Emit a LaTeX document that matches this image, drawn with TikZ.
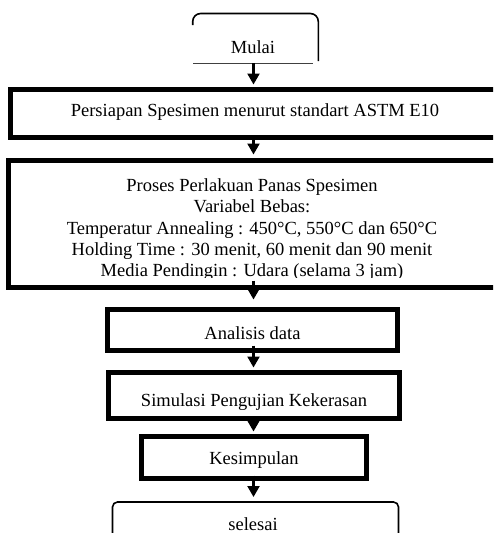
\documentclass[tikz,border=0pt]{standalone}
\usepackage{fontspec}
\setmainfont{Liberation Serif}
\usetikzlibrary{arrows.meta,calc}
\begin{document}
\begin{tikzpicture}[x=1pt,y=-1pt,
  every node/.style={font=\fontsize{18.5}{21.3}\selectfont, inner sep=0pt},
  thickbox/.style={draw, line width=5pt, rectangle, text depth=4pt},
  thinline/.style={line width=1.6pt},
  arr/.style={line width=2.2pt, -{Triangle[width=12pt,length=11pt]}},
]
\path[use as bounding box, clip] (0,0) rectangle (493,533);
\fill[white] (0,0) rectangle (493,533);
\coordinate (ax) at (253.5,0);

% Mulai (clipped rounded box)
\draw[thinline, rounded corners=8pt] (192.7,25) -- (192.7,13.5) -- (318.3,13.5) -- (318.3,61);
\draw[line width=0.8pt, black!75] (193,63.3) coordinate (mulaiL) -- (313,63.3) coordinate (mulaiR);
\node[anchor=base] (mulai) at (253,53) {Mulai};

% Persiapan
\node[thickbox, minimum width=489pt, minimum height=48pt, text height=10pt] (b2) at (255,113.5)
  {Persiapan Spesimen menurut standart ASTM E10};

% Proses
\node[thickbox, minimum width=489pt, minimum height=127pt] (b3) at (253,224) {};
\begin{scope}
  \clip (12,163) rectangle (488,277.5);
  \node[anchor=north, align=center] (b3text) at (252,178.4)
    {Proses Perlakuan Panas Spesimen\\
     Variabel Bebas:\\
     Temperatur Annealing : 450°C, 550°C dan 650°C\\
     Holding Time : 30 menit, 60 menit dan 90 menit\\
     Media Pendingin : Udara (selama 3 jam)};
\end{scope}

% Analisis
\node[thickbox, minimum width=290pt, minimum height=41pt, text height=22pt] (an) at (252.5,330) {Analisis data};
% Simulasi
\node[thickbox, minimum width=291pt, minimum height=46pt, text height=25pt] (sim) at (254,395.5) {Simulasi Pengujian Kekerasan};
% Kesimpulan
\node[thickbox, minimum width=225pt, minimum height=42pt, text height=18pt] (kes) at (254,457.5) {Kesimpulan};

% selesai (clipped rounded box)
\draw[thinline, rounded corners=5pt] (112.5,545) -- (112.5,502) -- (398.5,502) -- (398.5,545);
\coordinate (selTop) at (253.5,502);
\node[anchor=base] (selesai) at (253,530) {selesai};

% connectors
\draw[arr] (mulaiL -| ax) -- ($(b2.north -| ax)+(0,-2.5)$);
\draw[arr] ($(b2.south -| ax)+(0,-4.5)$) -- ($(b3.north -| ax)+(0,-3.5)$);
\draw[arr] ($(b3.south -| ax)+(0,-9.5)$) -- ($(an.north -| ax)+(0,-7.5)$);
\draw[arr] ($(an.south -| ax)+(0,-7.5)$) -- ($(sim.north -| ax)+(0,-2.5)$);
\draw[arr] ($(sim.south -| ax)+(0,-5)$) -- ($(kes.north -| ax)+(0,-2.5)$);
\draw[arr] ($(kes.south -| ax)+(0,-5.5)$) -- ($(selTop -| ax)+(0,-5)$);
\end{tikzpicture}
\end{document}
